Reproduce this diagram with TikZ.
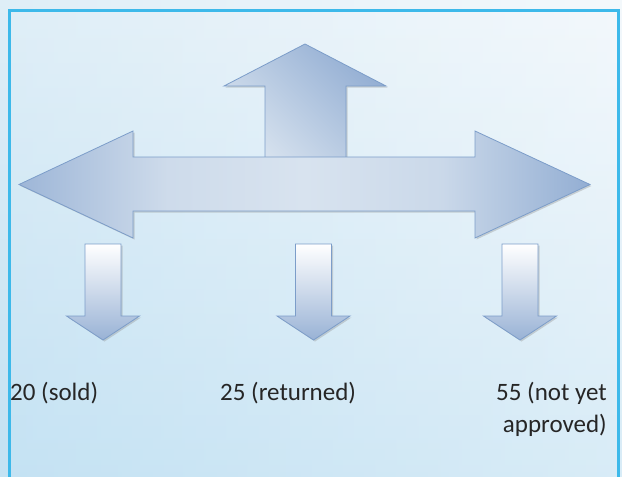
\documentclass[tikz,border=0pt]{standalone}
\usepackage{fontspec}
\setmainfont{Carlito}
\definecolor{framecyan}{HTML}{3DB9EA}
\definecolor{arrowedge}{HTML}{7C9DC9}
\definecolor{arrowdark}{HTML}{93AED3}
\definecolor{arrowlight}{HTML}{D8E3EF}
\definecolor{labelgray}{HTML}{262626}
\definecolor{skytop}{HTML}{EEF5FA}
\definecolor{skybottom}{HTML}{C4E2F3}
\pgfdeclarehorizontalshading{bandshade}{100bp}{color(0bp)=(arrowdark!85!arrowlight); color(25bp)=(arrowdark!85!arrowlight); color(38bp)=(arrowlight!85!arrowdark); color(50bp)=(arrowlight); color(62bp)=(arrowlight!80!arrowdark); color(75bp)=(arrowdark); color(100bp)=(arrowdark)}
\begin{document}
\begin{tikzpicture}[x=1pt, y=-1pt,
    arrowline/.style={draw=arrowedge, line width=0.8pt, line join=miter},
    arrowshadow/.style={fill=black!45, opacity=0.35},
    label text/.style={text=labelgray, inner sep=0pt, font=\fontsize{25}{32}\selectfont}]
    \useasboundingbox (0,0) rectangle (622,477);

    % background and frame
    \shade[top color=skytop, bottom color=skybottom] (0,0) rectangle (622,477);
    \shade[left color=skybottom, right color=white, opacity=0.35] (0,0) rectangle (622,477);
    \draw[framecyan, line width=3pt] (9,480) -- (9,10) -- (618,10) -- (618,480);

    % up arrow
    \fill[arrowshadow, xshift=1.5pt, yshift=-1.5pt] (305,44) -- (386,86) -- (346,86) -- (346,160) -- (265,160) -- (265,86) -- (224,86) -- cycle;
    \shade[arrowline, top color=arrowdark, bottom color=arrowlight, shading angle=-45]
        (305,44) -- (386,86) -- (346,86) -- (346,160) -- (265,160) -- (265,86) -- (224,86) -- cycle;

    % double arrow
    \fill[arrowshadow, xshift=1.5pt, yshift=-1.5pt] (19,184.5) -- (133,131) -- (133,157) -- (475,157) -- (475,131) -- (590,184.5)
        -- (475,238) -- (475,211) -- (133,211) -- (133,238) -- cycle;
    \shade[arrowline, shading=bandshade]
        (19,184.5) -- (133,131) -- (133,157) -- (475,157) -- (475,131) -- (590,184.5)
        -- (475,238) -- (475,211) -- (133,211) -- (133,238) -- cycle;

    % down arrows
    \foreach \cx in {103, 313.5, 520} {
        \fill[arrowshadow, xshift=1.5pt, yshift=-1.5pt] ({\cx-18},244) -- ({\cx+18},244) -- ({\cx+18},316) -- ({\cx+36.5},316)
            -- (\cx,340) -- ({\cx-36.5},316) -- ({\cx-18},316) -- cycle;
        \shade[arrowline, top color=white, bottom color=arrowdark!95]
            ({\cx-18},244) -- ({\cx+18},244) -- ({\cx+18},316) -- ({\cx+36.5},316)
            -- (\cx,340) -- ({\cx-36.5},316) -- ({\cx-18},316) -- cycle;
    }

    % labels
    \node[label text, anchor=base west] (sold) at (10,400) {20 (sold)};
    \node[label text, anchor=base west] (returned) at (220,400) {25 (returned)};
    \node[label text, anchor=base east, align=right] (pending) at (607,432) {55 (not yet\\approved)};
\end{tikzpicture}
\end{document}
